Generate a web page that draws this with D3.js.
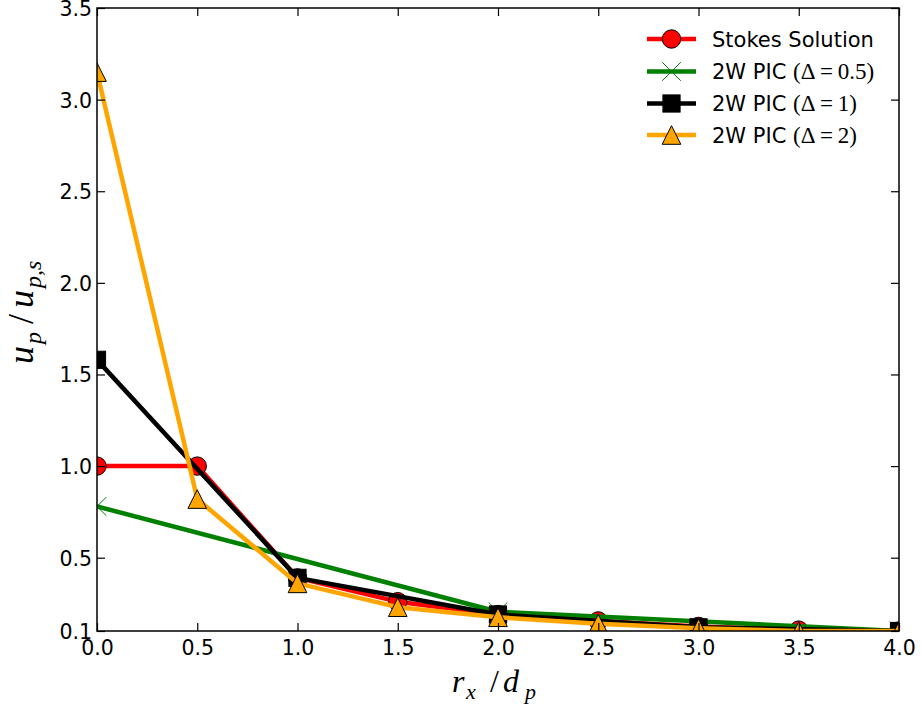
<!DOCTYPE html>
<html><head><meta charset="utf-8">
<script src="https://cdn.jsdelivr.net/npm/d3@7"></script>
<style>body{margin:0;background:#fff}svg{display:block}</style>
</head><body>
<svg id="c" width="921" height="712"></svg>
<script>
const stokesX = [0.0, 0.5, 1.0, 1.5, 2.0, 2.5, 3.0, 3.5, 4.0];
const stokes  = [1.0, 1.0, 0.39, 0.26, 0.19, 0.155, 0.125, 0.105, 0.1];
const pic05X  = [0.0, 2.0, 4.0];
const pic05   = [0.78, 0.205, 0.1];
const pic1X   = [0.0, 1.0, 2.0, 3.0, 4.0];
const pic1    = [1.58, 0.39, 0.19, 0.12, 0.1];
const pic2X   = [0.0, 0.5, 1.0, 1.5, 2.0, 2.5, 3.0, 3.5, 4.0];
const pic2    = [3.15, 0.82, 0.36, 0.23, 0.175, 0.14, 0.115, 0.1, 0.1];
const xTicks = [0.0, 0.5, 1.0, 1.5, 2.0, 2.5, 3.0, 3.5, 4.0];
const yTicks = [0.1, 0.5, 1.0, 1.5, 2.0, 2.5, 3.0, 3.5];
const seriesNames = ["Stokes Solution", "2W PIC ", "2W PIC ", "2W PIC "];
const deltaLabels = [null, "0.5", "1", "2"];

const svg = d3.select("#c");
const L = 97, R = 899, T = 8, B = 631;
const x = d3.scaleLinear().domain([0, 4]).range([L, R]);
const y = d3.scaleLinear().domain([0.1, 3.5]).range([B, T]);

svg.append("defs").append("clipPath").attr("id", "clip")
  .append("rect").attr("x", L).attr("y", T).attr("width", R - L).attr("height", B - T);

const series = [
  {xs: stokesX, vals: stokes, color: "#ff0000", marker: "circle"},
  {xs: pic05X, vals: pic05, color: "#008000", marker: "x"},
  {xs: pic1X, vals: pic1, color: "#000000", marker: "square"},
  {xs: pic2X, vals: pic2, color: "#ffa500", marker: "triangle"}
];

function drawMarker(g, type, color, cx, cy) {
  if (type === "circle") {
    g.append("circle").attr("cx", cx).attr("cy", cy).attr("r", 9.2)
      .attr("fill", color).attr("stroke", "#000").attr("stroke-width", 1);
  } else if (type === "square") {
    g.append("rect").attr("x", cx - 8.6).attr("y", cy - 8.6).attr("width", 17.2).attr("height", 17.2)
      .attr("fill", color).attr("stroke", "#000").attr("stroke-width", 1);
  } else if (type === "triangle") {
    const s = 9.3;
    g.append("path").attr("d", `M${cx},${cy - s}L${cx + s},${cy + s}L${cx - s},${cy + s}Z`)
      .attr("fill", color).attr("stroke", "#000").attr("stroke-width", 1);
  } else if (type === "x") {
    const s = 9.3;
    g.append("path").attr("d", `M${cx - s},${cy - s}L${cx + s},${cy + s}M${cx - s},${cy + s}L${cx + s},${cy - s}`)
      .attr("stroke", color).attr("stroke-width", 1).attr("fill", "none");
  }
}

const plot = svg.append("g").attr("clip-path", "url(#clip)");
series.forEach(s => {
  const g = plot.append("g");
  const line = d3.line().x((d, i) => x(s.xs[i])).y(d => y(d));
  g.append("path").datum(s.vals).attr("d", line).attr("fill", "none")
    .attr("stroke", s.color).attr("stroke-width", 4.5).attr("stroke-linejoin", "round");
  s.vals.forEach((v, i) => drawMarker(g, s.marker, s.color, x(s.xs[i]), y(v)));
});

// frame
svg.append("rect").attr("x", L).attr("y", T).attr("width", R - L).attr("height", B - T)
  .attr("fill", "none").attr("stroke", "#000").attr("stroke-width", 1.5);

const font = "DejaVu Sans, sans-serif";
const fs = 20.5;
const xAxisB = d3.axisBottom(x).tickValues(xTicks).tickFormat(d3.format(".1f")).tickSizeInner(-8).tickSizeOuter(0).tickPadding(9);
const gxb = svg.append("g").attr("transform", `translate(0,${B})`).call(xAxisB);
const xAxisT = d3.axisTop(x).tickValues(xTicks).tickFormat("").tickSizeInner(-8).tickSizeOuter(0);
const gxt = svg.append("g").attr("transform", `translate(0,${T})`).call(xAxisT);
const yAxisL = d3.axisLeft(y).tickValues(yTicks).tickFormat(d3.format(".1f")).tickSizeInner(-8).tickSizeOuter(0).tickPadding(5);
const gyl = svg.append("g").attr("transform", `translate(${L},0)`).call(yAxisL);
const yAxisR = d3.axisRight(y).tickValues(yTicks).tickFormat("").tickSizeInner(-8).tickSizeOuter(0);
const gyr = svg.append("g").attr("transform", `translate(${R},0)`).call(yAxisR);
[gxb, gxt, gyl, gyr].forEach(g => {
  g.select(".domain").remove();
  g.selectAll(".tick line").attr("stroke", "#000").attr("stroke-width", 1.2);
  g.selectAll("text").attr("font-family", font).attr("font-size", fs).attr("fill", "#000");
});
gyl.selectAll("text").attr("dy", "0.36em");

// axis labels (math italic), placed piece by piece
const mfont = "Liberation Serif, DejaVu Serif, serif";
function piece(g, txt, px, py, size, italic) {
  g.append("text").attr("x", px).attr("y", py).attr("font-family", mfont)
    .attr("font-style", italic ? "italic" : "normal").attr("font-size", size).attr("fill", "#000").text(txt);
}
const xlab = svg.append("g").attr("class", "xlabel");
piece(xlab, "r", 452, 692, 32, true);
piece(xlab, "x", 466, 699, 22, true);
piece(xlab, "/", 490, 692, 32, false);
piece(xlab, "d", 503, 692, 32, true);
piece(xlab, "p", 525, 699, 22, true);

const ylab = svg.append("g").attr("class", "ylabel").attr("transform", "translate(33,364) rotate(-90)");
piece(ylab, "u", 0, 0, 36, true);
piece(ylab, "p", 20, 8, 24, true);
piece(ylab, "/", 40, 0, 36, false);
piece(ylab, "u", 56, 0, 36, true);
piece(ylab, "p,s", 76, 8, 24, true);

// legend
const legY = [39, 71.5, 103.5, 135];
series.forEach((s, i) => {
  const g = svg.append("g");
  g.append("line").attr("x1", 647).attr("x2", 696).attr("y1", legY[i]).attr("y2", legY[i])
    .attr("stroke", s.color).attr("stroke-width", 4.5);
  drawMarker(g, s.marker, s.color, 671.5, legY[i]);
  const t = g.append("text").attr("x", 712).attr("y", legY[i] + 7.5)
    .attr("font-family", font).attr("font-size", 21).attr("fill", "#000");
  t.append("tspan").text(seriesNames[i]);
  if (deltaLabels[i] !== null) {
    t.append("tspan").attr("font-family", mfont).attr("font-size", 23)
      .text("(\u0394\u2009=\u2009" + deltaLabels[i] + ")");
  }
});
</script>
</body></html>
